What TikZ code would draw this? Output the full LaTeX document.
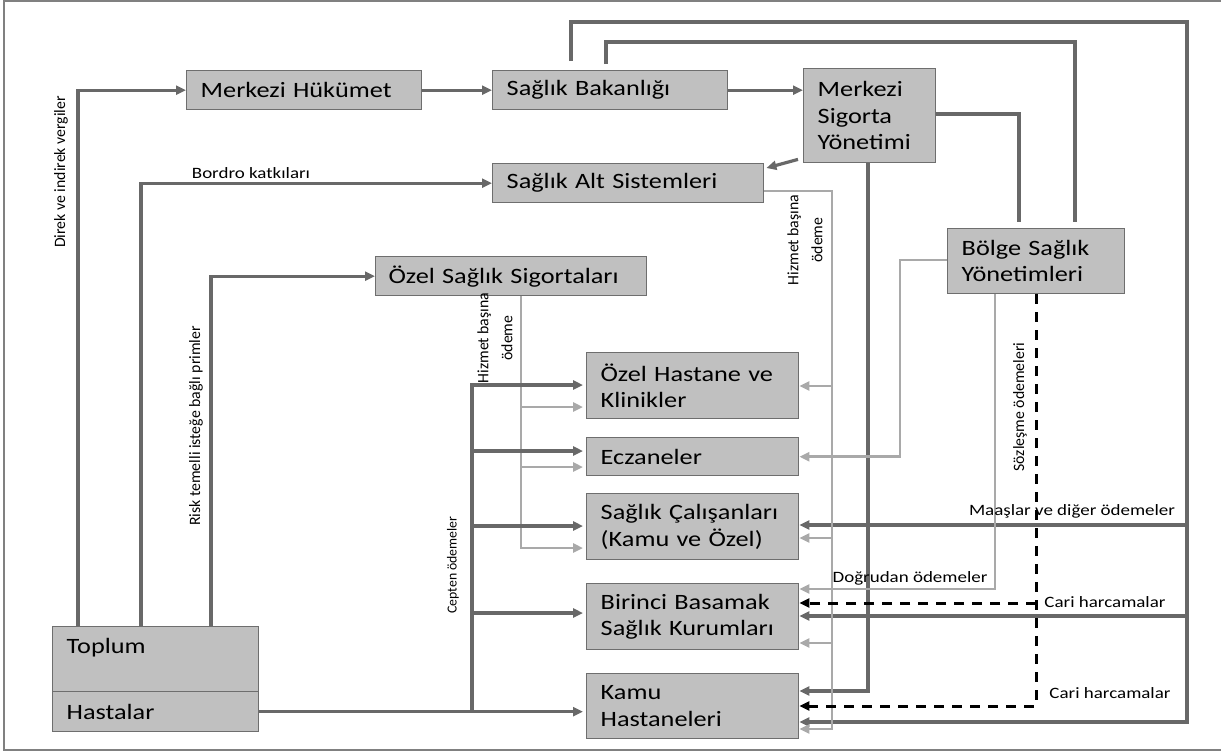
\documentclass[tikz,border=0pt]{standalone}
\usepackage{fontspec}
\setmainfont{Carlito}
\newfontfamily\hf{Carlito}[FakeStretch=1.2]
\usetikzlibrary{arrows.meta}
\definecolor{dk}{HTML}{686868}
\definecolor{lt}{HTML}{A9A9A9}
\definecolor{boxfill}{HTML}{C0C0C0}
\definecolor{boxline}{HTML}{6E6E6E}
\definecolor{framecol}{HTML}{808080}
\tikzset{
 bx/.style={draw=boxline, line width=1.4pt, fill=boxfill, anchor=north west, inner xsep=14pt, inner ysep=0pt, align=left, font=\hf\fontsize{21.9}{26.5}\selectfont},
 dkl/.style={draw=dk, line width=3.2pt},
 ltl/.style={draw=lt, line width=2.9pt},
 dsh/.style={draw=black, line width=3pt, dash pattern=on 10pt off 8pt},
 tip/.style={-{Triangle[length=10pt,width=9pt]}},
 hlab/.style={font=\hf\fontsize{15.8}{19}\selectfont, inner sep=0pt},
 vlab/.style={font=\fontsize{15.8}{24}\selectfont, rotate=90, inner sep=0pt, align=center},
}
\begin{document}
\begin{tikzpicture}[x=1pt,y=-1pt]
\useasboundingbox (0,0) rectangle (1221,753);
\draw[framecol, line width=1.5pt] (1225,1) -- (4,1) -- (4,750) -- (1225,750);

% boxes
\node[bx, minimum height=39pt, text width=207pt] (mh) at (186,70) {Merkezi Hükümet};
\node[bx, minimum height=39pt, text width=207pt] (sb) at (492,70) {Sağlık Bakanlığı};
\node[bx, minimum height=94pt, text width=104pt] (msy) at (803,68) {Merkezi\\Sigorta\\Yönetimi};
\node[bx, minimum height=39pt, text width=243pt] (sas) at (492,163) {Sağlık Alt Sistemleri};
\node[bx, minimum height=39pt, inner xsep=13pt, text width=245pt] (oss) at (375,256) {Özel Sağlık Sigortaları};
\node[bx, minimum height=65pt, text width=149pt] (bsy) at (947,228) {Bölge Sağlık\\Yönetimleri};
\node[bx, minimum height=66pt, text width=184pt] (oh) at (586,352) {Özel Hastane ve\\Klinikler};
\node[bx, minimum height=38pt, text width=184pt] (ecz) at (586,437) {Eczaneler};
\node[bx, minimum height=66pt, text width=184pt] (sc) at (586,493) {Sağlık Çalışanları\\(Kamu ve Özel)};
\node[bx, minimum height=66pt, text width=184pt] (bb) at (586,583) {Birinci Basamak\\Sağlık Kurumları};
\node[bx, minimum height=65pt, text width=184pt] (kh) at (586,673) {Kamu\\Hastaneleri};
\node[bx, text width=178pt, text height=27pt, text depth=38pt] (top) at (52,626) {Toplum};
\node[bx, minimum height=40pt, text width=178pt] (has) at (52,691) {Hastalar};

% junction coordinates
\coordinate (jSB) at (1187,22);
\coordinate (jSC) at (1187,525);
\coordinate (jBB) at (1187,616);
\coordinate (jL1) at (832,386);
\coordinate (jL2) at (832,538);
\coordinate (jL3) at (832,643);
\coordinate (jD) at (1036,603);
\coordinate (jO1) at (521,407);
\coordinate (jO2) at (521,467);
\coordinate (jC0) at (472,711);
\coordinate (jC1) at (472,451);
\coordinate (jC2) at (472,526);
\coordinate (jC3) at (472,613);

% dark connectors
\draw[dkl,tip] (top.north -| 78,0) |- (mh.west);
\draw[dkl,tip] (top.north -| 141,0) |- (sas.west);
\draw[dkl,tip] (top.north -| 211,0) |- (oss.west);
\draw[dkl,tip] (mh.east) -- (sb.west);
\draw[dkl,tip] (sb.east) -- (sb.east -| msy.west);
\draw[dkl,tip] ([xshift=-5pt,yshift=4pt]msy.south west) -- ([xshift=2pt,yshift=-5pt]sas.north east);
\draw[dkl,tip,shorten <=9pt] (sb.north -| 571,0) |- (jSB) -- (1187,722) -- (kh.east |- 0,722);
\draw[dkl,tip] (jSC) -- (sc.east |- jSC);
\draw[dkl,tip] (jBB) -- (bb.east |- jBB);
\draw[dkl,shorten <=6pt,shorten >=6pt] (sb.north -| 606,0) |- (1075,42) -- (bsy.north -| 1075,0);
\draw[dkl,shorten >=6pt] (msy.east |- 0,114) -| (bsy.north -| 1019,0);
\draw[dkl,tip] (msy.south -| 868,0) |- (kh.east |- 0,691);

% light connectors
\draw[ltl,tip] (sas.east |- 0,191) -| (832,729) -- (kh.east |- 0,729);
\draw[ltl,tip] (jL1) -- (oh.east |- jL1);
\draw[ltl,tip] (jL2) -- (sc.east |- jL2);
\draw[ltl,tip] (jL3) -- (bb.east |- jL3);
\draw[ltl,tip] (bsy.west |- 0,260) -- (900,260) |- (ecz.east);
\draw[ltl,tip] (bsy.south -| 995,0) |- (bb.east |- 0,589);
\draw[ltl,tip,shorten >=3pt] (oss.south -| 521,0) |- (sc.west |- 0,548);
\draw[ltl,tip,shorten >=3pt] (jO1) -- (oh.west |- jO1);
\draw[ltl,tip,shorten >=3pt] (jO2) -- (ecz.west |- jO2);

% dashed
\draw[dsh,tip] (bsy.south -| 1036,0) |- (kh.east |- 0,706);
\draw[dsh,tip] (jD) -- (bb.east |- jD);

% out-of-pocket
\draw[dkl,tip,shorten >=3pt] (has.east) -- (kh.west |- has.east);
\draw[dkl,tip,shorten >=3pt] (jC0) |- (oh.west |- 0,385);
\draw[dkl,tip,shorten >=3pt] (jC1) -- (ecz.west |- jC1);
\draw[dkl,tip,shorten >=3pt] (jC2) -- (sc.west |- jC2);
\draw[dkl,tip,shorten >=3pt] (jC3) -- (bb.west |- jC3);

% labels
\node[vlab] (l1) at (61,172) {Direk ve indirek vergiler};
\node[hlab] (l2) at (251,173) {Bordro katkıları};
\node[vlab] (l3) at (196,426) {Risk temelli isteğe bağlı primler};
\node[vlab] (l4) at (495,338) {Hizmet başına\\ödeme};
\node[vlab] (l5) at (805,240) {Hizmet başına\\ödeme};
\node[vlab, font=\fontsize{13.8}{16}\selectfont] (l6) at (453,565) {Cepten ödemeler};
\node[vlab] (l7) at (1020,407) {Sözleşme ödemeleri};
\node[hlab] (l8) at (1072,511) {Maaşlar ve diğer ödemeler};
\node[hlab] (l9) at (910,578) {Doğrudan ödemeler};
\node[hlab] (l10) at (1105,602) {Cari harcamalar};
\node[hlab] (l11) at (1110,693) {Cari harcamalar};
\end{tikzpicture}
\end{document}
